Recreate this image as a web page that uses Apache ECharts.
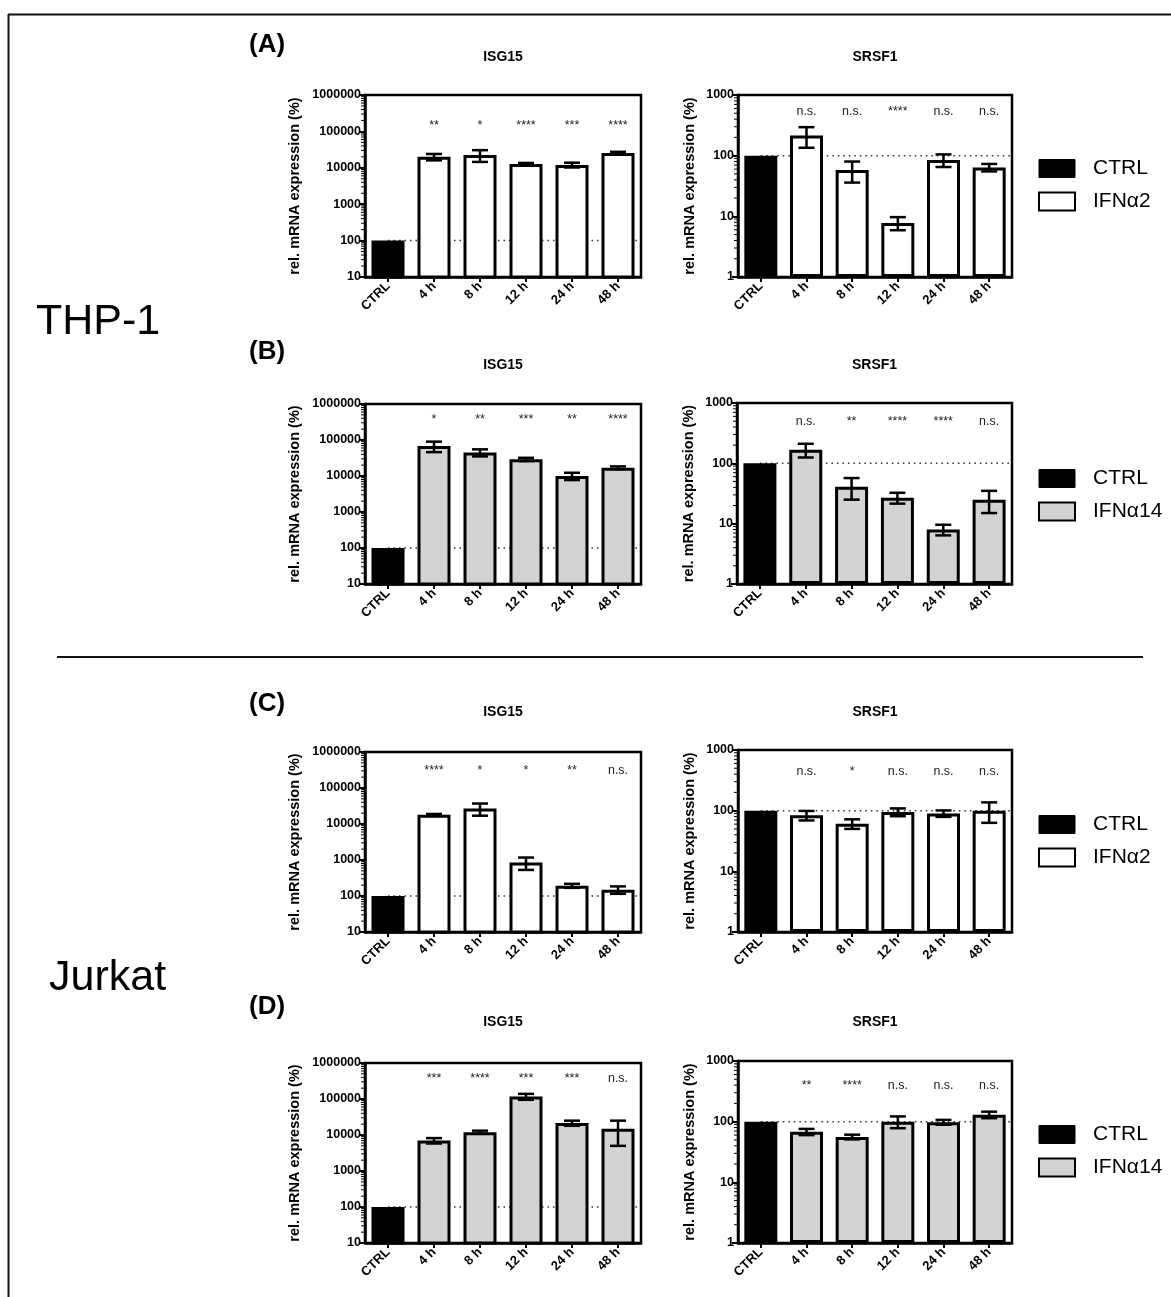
<!DOCTYPE html>
<html><head><meta charset="utf-8">
<script src="https://cdn.jsdelivr.net/npm/echarts@6/dist/echarts.min.js"></script>
<style>html,body{margin:0;padding:0;background:#fff}#c{width:1171px;height:1297px}</style>
</head><body><div id="c"></div>
<script>
// ---------- data ----------
const categories = ['CTRL', '4 h', '8 h', '12 h', '24 h', '48 h'];

// (A) THP-1, IFNα2
const A_isg15 = [100, 20000, 22500, 12800, 12000, 25500];
const A_isg15_sd = [0, 4000, 8000, 800, 1800, 2000];
const A_isg15_sig = ['', '**', '*', '****', '***', '****'];
const A_srsf1 = [100, 215, 58, 7.8, 85, 64];
const A_srsf1_sd = [0, 80, 22, 1.9, 20, 9];
const A_srsf1_sig = ['', 'n.s.', 'n.s.', '****', 'n.s.', 'n.s.'];

// (B) THP-1, IFNα14
const B_isg15 = [100, 68000, 45000, 29000, 10000, 17000];
const B_isg15_sd = [0, 22000, 10000, 3000, 2300, 1500];
const B_isg15_sig = ['', '*', '**', '***', '**', '****'];
const B_srsf1 = [100, 168, 41, 27, 8, 25];
const B_srsf1_sd = [0, 43, 16, 5.5, 1.6, 10];
const B_srsf1_sig = ['', 'n.s.', '**', '****', '****', 'n.s.'];

// (C) Jurkat, IFNα2
const C_isg15 = [100, 18000, 27000, 850, 193, 150];
const C_isg15_sd = [0, 1000, 10000, 320, 25, 35];
const C_isg15_sig = ['', '****', '*', '*', '**', 'n.s.'];
const C_srsf1 = [100, 84, 61, 95, 90, 100];
const C_srsf1_sd = [0, 15, 11, 14, 11, 37];
const C_srsf1_sig = ['', 'n.s.', '*', 'n.s.', 'n.s.', 'n.s.'];

// (D) Jurkat, IFNα14
const D_isg15 = [100, 7000, 12000, 117000, 21500, 15000];
const D_isg15_sd = [0, 1200, 1200, 22000, 3500, 10000];
const D_isg15_sig = ['', '***', '****', '***', '***', 'n.s.'];
const D_srsf1 = [100, 68, 56, 100, 98, 130];
const D_srsf1_sd = [0, 8, 5, 22, 9, 16];
const D_srsf1_sig = ['', '**', '****', 'n.s.', 'n.s.', 'n.s.'];

const treatments = ['IFNα2', 'IFNα14'];
const geneTitles = ['ISG15', 'SRSF1'];
const panelLetters = ['(A)', '(B)', '(C)', '(D)'];
const cellLines = ['THP-1', 'Jurkat'];
const yAxisName = 'rel. mRNA expression (%)';

// ---------- layout / style ----------
const FONT = '"Liberation Sans", Arial, Helvetica, sans-serif';
const FILL = {'IFNα2': '#ffffff', 'IFNα14': '#d3d3d3'};
const rows = [
  {letter: panelLetters[0], letterY: 45, titleY: 57, legendTop: 158, treat: treatments[0]},
  {letter: panelLetters[1], letterY: 352, titleY: 365, legendTop: 468, treat: treatments[1]},
  {letter: panelLetters[2], letterY: 704, titleY: 712, legendTop: 814, treat: treatments[0]},
  {letter: panelLetters[3], letterY: 1007, titleY: 1022, legendTop: 1124, treat: treatments[1]}
];
const panels = [
  {vals: A_isg15, sd: A_isg15_sd, sig: A_isg15_sig, row: 0, min: 10, max: 1e6, grid: {left: 365, top: 95, width: 276, height: 182}, gap: 63, sigOff: 31},
  {vals: A_srsf1, sd: A_srsf1_sd, sig: A_srsf1_sig, row: 0, min: 1, max: 1000, grid: {left: 738, top: 95, width: 274, height: 182}, gap: 41, sigOff: 17},
  {vals: B_isg15, sd: B_isg15_sd, sig: B_isg15_sig, row: 1, min: 10, max: 1e6, grid: {left: 365, top: 404, width: 276, height: 180}, gap: 63, sigOff: 16},
  {vals: B_srsf1, sd: B_srsf1_sd, sig: B_srsf1_sig, row: 1, min: 1, max: 1000, grid: {left: 737, top: 403, width: 275, height: 181}, gap: 41, sigOff: 18.5},
  {vals: C_isg15, sd: C_isg15_sd, sig: C_isg15_sig, row: 2, min: 10, max: 1e6, grid: {left: 365, top: 752, width: 276, height: 180}, gap: 63, sigOff: 18.5},
  {vals: C_srsf1, sd: C_srsf1_sd, sig: C_srsf1_sig, row: 2, min: 1, max: 1000, grid: {left: 738, top: 750, width: 274, height: 182}, gap: 41, sigOff: 21.5},
  {vals: D_isg15, sd: D_isg15_sd, sig: D_isg15_sig, row: 3, min: 10, max: 1e6, grid: {left: 365, top: 1063, width: 276, height: 180}, gap: 63, sigOff: 15.5},
  {vals: D_srsf1, sd: D_srsf1_sd, sig: D_srsf1_sig, row: 3, min: 1, max: 1000, grid: {left: 738, top: 1061, width: 274, height: 182}, gap: 41, sigOff: 24.5}
];

const grid = [], xAxis = [], yAxis = [], series = [], graphic = [];

panels.forEach((p, i) => {
  const treat = rows[p.row].treat;
  grid.push(Object.assign({show: true, borderColor: '#000', borderWidth: 2.5, backgroundColor: 'transparent'}, p.grid));
  xAxis.push({
    gridIndex: i, type: 'category', data: categories,
    axisLine: {show: true, lineStyle: {color: '#000', width: 2.5}},
    axisTick: {show: true, alignWithLabel: true, length: 5, lineStyle: {color: '#000', width: 2}},
    axisLabel: {interval: 0, rotate: 45, margin: 7, color: '#000', fontWeight: 'bold', fontSize: 13, fontFamily: FONT},
    splitLine: {show: false}
  });
  yAxis.push({
    gridIndex: i, type: 'log', logBase: 10, min: p.min, max: p.max,
    name: yAxisName, nameLocation: 'middle', nameGap: p.gap,
    nameTextStyle: {color: '#000', fontWeight: 'bold', fontSize: 14.5, fontFamily: FONT},
    axisLine: {show: true, lineStyle: {color: '#000', width: 2.5}},
    axisTick: {show: true, length: 6, lineStyle: {color: '#000', width: 2}},
    axisLabel: {color: '#000', fontWeight: 'bold', fontSize: 12.5, fontFamily: FONT, margin: 4,
      formatter: v => String(Math.round(v))},
    splitLine: {show: false}
  });
  // dotted reference line at the control level
  series.push({
    type: 'custom', xAxisIndex: i, yAxisIndex: i, z: 1, silent: true,
    data: [[0, p.vals[0]]],
    renderItem: (params, api) => {
      const pt = api.coord([api.value(0), api.value(1)]);
      const cs = params.coordSys;
      return {type: 'line', shape: {x1: pt[0], y1: pt[1], x2: cs.x + cs.width, y2: pt[1]},
        style: {stroke: '#333', lineWidth: 1.5, lineDash: [1.5, 4]}};
    }
  });
  // bars
  series.push({
    name: 'CTRL', type: 'bar', xAxisIndex: i, yAxisIndex: i, z: 2, barWidth: 33, clip: true,
    data: p.vals.map((v, k) => k === 0 ? v : '-'),
    itemStyle: {color: '#000', borderColor: '#000', borderWidth: 3}
  });
  series.push({
    name: treat, type: 'bar', xAxisIndex: i, yAxisIndex: i, z: 2, barWidth: 33, barGap: '-100%', clip: true,
    data: p.vals.map((v, k) => k === 0 ? '-' : v),
    itemStyle: {color: FILL[treat], borderColor: '#000', borderWidth: 3}
  });
  // error bars
  series.push({
    type: 'custom', xAxisIndex: i, yAxisIndex: i, z: 3, silent: true,
    data: p.vals.map((v, k) => [k, v, p.sd[k]]).filter(d => d[2] > 0),
    renderItem: (params, api) => {
      const k = api.value(0), v = api.value(1), s = api.value(2);
      const hi = api.coord([k, v + s]);
      const lo = api.coord([k, Math.max(v - s, p.min)]);
      const w = 8, st = {stroke: '#000', lineWidth: 2.5};
      return {type: 'group', children: [
        {type: 'line', shape: {x1: hi[0], y1: hi[1], x2: lo[0], y2: lo[1]}, style: st},
        {type: 'line', shape: {x1: hi[0] - w, y1: hi[1], x2: hi[0] + w, y2: hi[1]}, style: st},
        {type: 'line', shape: {x1: lo[0] - w, y1: lo[1], x2: lo[0] + w, y2: lo[1]}, style: st}
      ]};
    }
  });
  // significance labels
  series.push({
    type: 'custom', xAxisIndex: i, yAxisIndex: i, z: 3, silent: true,
    data: p.vals.map((v, k) => [k, v]).filter((d, k) => p.sig[k] !== ''),
    renderItem: (params, api) => {
      const k = api.value(0);
      const x = api.coord([k, api.value(1)])[0];
      return {type: 'text', style: {x: x, y: params.coordSys.y + p.sigOff, text: p.sig[k],
        fill: '#222', font: '12.5px ' + FONT, align: 'center', verticalAlign: 'middle'}};
    }
  });
  // log minor ticks
  series.push({
    type: 'custom', xAxisIndex: i, yAxisIndex: i, z: 3, silent: true,
    data: [[0, p.min]],
    renderItem: (params, api) => {
      const cs = params.coordSys, children = [];
      for (let d = p.min; d < p.max; d *= 10) {
        for (let m = 2; m <= 9; m++) {
          const y = api.coord([0, d * m])[1];
          children.push({type: 'line', shape: {x1: cs.x - 4, y1: y, x2: cs.x, y2: y},
            style: {stroke: '#000', lineWidth: 1}});
        }
      }
      return {type: 'group', children: children};
    }
  });
  // gene title
  graphic.push({type: 'text', x: p.grid.left + p.grid.width / 2, y: rows[p.row].titleY, silent: true,
    style: {text: geneTitles[i % 2], font: 'bold 14px ' + FONT, fill: '#000', align: 'center', verticalAlign: 'middle'}});
});

rows.forEach(r => {
  graphic.push({type: 'text', x: 249, y: r.letterY, silent: true,
    style: {text: r.letter, font: 'bold 26px ' + FONT, fill: '#000', align: 'left', verticalAlign: 'middle'}});
});

graphic.push({type: 'text', x: 36, y: 322, silent: true,
  style: {text: cellLines[0], font: '43px ' + FONT, fill: '#000', align: 'left', verticalAlign: 'middle'}});
graphic.push({type: 'text', x: 49, y: 978, silent: true,
  style: {text: cellLines[1], font: '43px ' + FONT, fill: '#000', align: 'left', verticalAlign: 'middle'}});
// frame lines
graphic.push({type: 'line', silent: true, shape: {x1: 8.5, y1: 14, x2: 8.5, y2: 1297}, style: {stroke: '#111', lineWidth: 2}});
graphic.push({type: 'line', silent: true, shape: {x1: 8, y1: 14.5, x2: 1171, y2: 14.5}, style: {stroke: '#111', lineWidth: 2}});
graphic.push({type: 'line', silent: true, shape: {x1: 57, y1: 657, x2: 1143, y2: 657}, style: {stroke: '#111', lineWidth: 2}});

const legend = rows.map(r => ({
  orient: 'vertical', left: 1038, top: r.legendTop, padding: 0,
  itemWidth: 36, itemHeight: 18, itemGap: 12, icon: 'rect', selectedMode: false,
  data: [
    {name: 'CTRL', itemStyle: {color: '#000', borderColor: '#000', borderWidth: 1}},
    {name: r.treat, itemStyle: {color: FILL[r.treat], borderColor: '#000', borderWidth: 2}}
  ],
  textStyle: {fontSize: 21, fontFamily: FONT, color: '#000', padding: [0, 0, 0, 13]}
}));

const chart = echarts.init(document.getElementById('c'), null, {renderer: 'canvas', width: 1171, height: 1297});
chart.setOption({
  animation: false, backgroundColor: '#fff',
  grid, xAxis, yAxis, series, legend, graphic
});
</script></body></html>
